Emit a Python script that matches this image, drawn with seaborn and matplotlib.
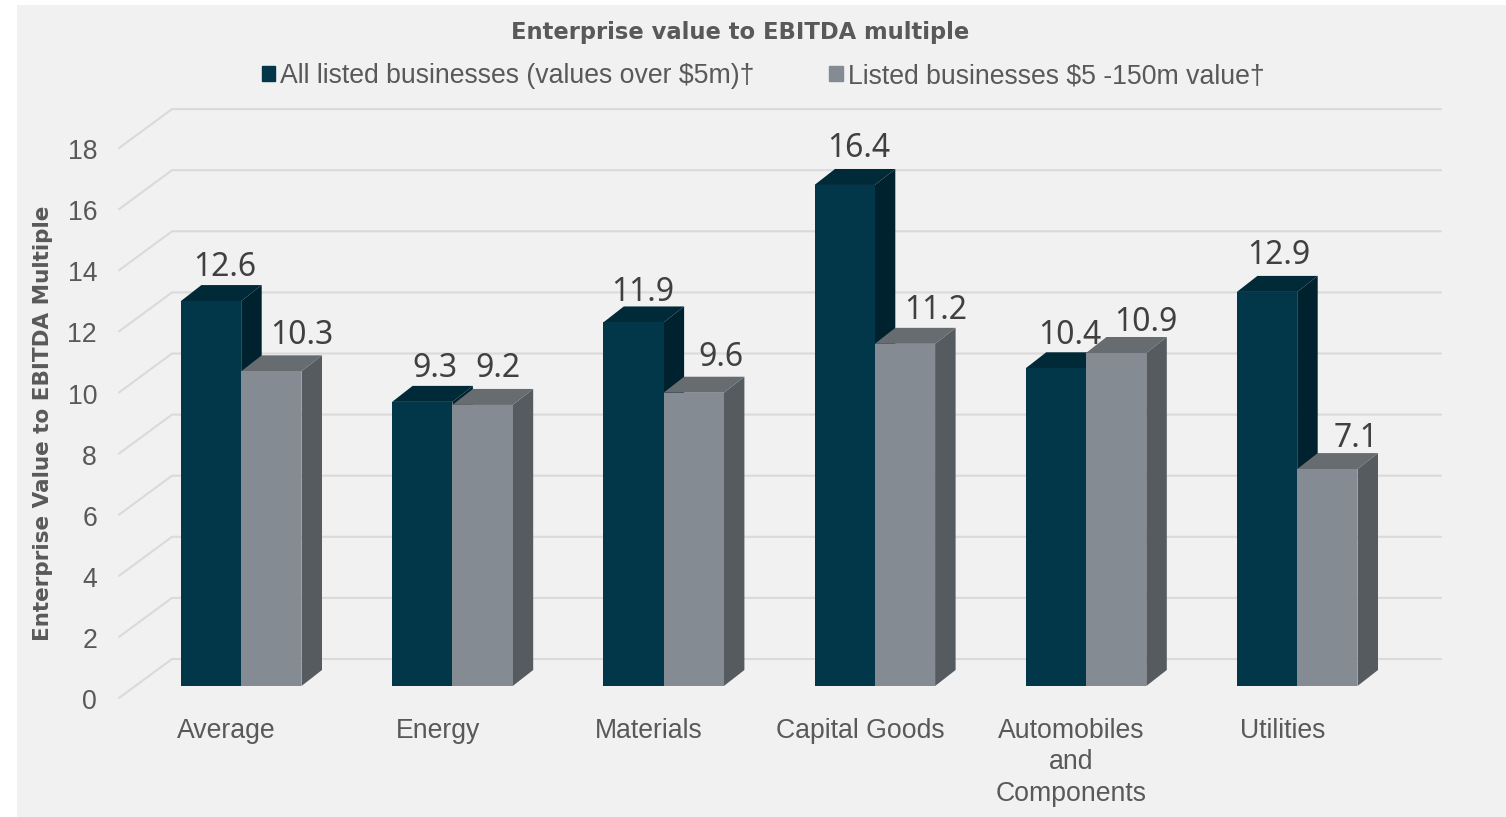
import matplotlib
matplotlib.use("Agg")
import matplotlib.pyplot as plt
import matplotlib.patches as mpatches
import matplotlib.transforms as mtrans
import pandas as pd
import seaborn as sns

sectors = ["Average", "Energy", "Materials", "Capital Goods",
           "Automobiles\nand\nComponents", "Utilities"]
all_listed = [12.6, 9.3, 11.9, 16.4, 10.4, 12.9]
small_listed = [10.3, 9.2, 9.6, 11.2, 10.9, 7.1]
series_names = ["All listed businesses (values over $5m)†",
                "Listed businesses $5 -150m value†"]
y_ticks = list(range(0, 20, 2))

front_colors = ["#02374A", "#848B92"]
top_colors = ["#012A38", "#666C6F"]
side_colors = ["#00222E", "#565B5F"]
grid_color = "#DADADA"
text_color = "#595959"
label_color = "#404040"

# Pixel layout of the plot area on a 1506x817 canvas
W, H = 1506, 817
left_px, right_px, base_px, top_px = 119, 1441, 686, 106
centre_px = 241.2
px_per_cat = 211.2
px_per_unit = 30.55

# Label nudges in pixels, relative to the top centre of each bar
nudge_all = [(14, 34), (13, 33), (9, 30), (14, 36), (14, 33), (12, 36)]
nudge_small = [(30, 36), (15, 36), (27, 35), (31, 33), (30, 31), (29, 31)]

sns.set_theme(style="white")
plt.rcParams["font.family"] = ["Liberation Sans", "DejaVu Sans"]

df = pd.DataFrame({
    "sector": sectors * 2,
    "multiple": all_listed + small_listed,
    "series": [series_names[0]] * 6 + [series_names[1]] * 6,
})

fig = plt.figure(figsize=(W / 100, H / 100), dpi=100, facecolor="white")
fig.add_artist(mpatches.Rectangle((17 / W, 0), 1 - 17 / W, 1 - 5 / H,
                                  transform=fig.transFigure,
                                  facecolor="#F1F1F1", edgecolor="none", zorder=-5))

ax = fig.add_axes([left_px / W, 1 - base_px / H,
                   (right_px - left_px) / W, (base_px - top_px) / H])
ax.patch.set_alpha(0)

sns.barplot(data=df, x="sector", y="multiple", hue="series", hue_order=series_names,
            palette=front_colors, saturation=1, width=0.571, gap=0, ax=ax,
            linewidth=0, zorder=3)

ax.set_xlim((left_px - centre_px) / px_per_cat, (right_px - centre_px) / px_per_cat)
ax.set_ylim(0, (base_px - top_px) / px_per_unit)

to_x = 1 / px_per_cat
to_y = 1 / px_per_unit

# Perspective walls: each gridline runs up a slanted floor edge and along the back
x_front, x_back = ax.get_xlim()[0], ax.get_xlim()[0] + 53 * to_x
for v in y_ticks:
    ax.plot([x_front, x_back, ax.get_xlim()[1]],
            [v - 12 * to_y, v + 27 * to_y, v + 27 * to_y],
            color=grid_color, lw=1.5, clip_on=False, zorder=1,
            solid_joinstyle="miter")

# Extruded side and top faces, derived from the bars seaborn drew
depth_x, depth_y = 20.5 * to_x, 16 * to_y
for i, container in enumerate(ax.containers):
    nudges = [nudge_all, nudge_small][i]
    for bar, (nx, ny) in zip(container.patches, nudges):
        x0, w, h = bar.get_x(), bar.get_width(), bar.get_height()
        x1 = x0 + w
        bar.set_zorder(4 + 2 * i)
        ax.add_patch(mpatches.Polygon(
            [(x1, 0), (x1 + depth_x, depth_y), (x1 + depth_x, h + depth_y), (x1, h)],
            facecolor=side_colors[i], edgecolor="none", zorder=3 + 2 * i, clip_on=False))
        ax.add_patch(mpatches.Polygon(
            [(x0, h), (x0 + depth_x, h + depth_y), (x1 + depth_x, h + depth_y), (x1, h)],
            facecolor=top_colors[i], edgecolor="none", zorder=3 + 2 * i, clip_on=False))
        ax.annotate(f"{h:.1f}", (x0 + w / 2, h), xytext=(nx * 0.72, ny * 0.72),
                    textcoords="offset points", ha="center", va="center",
                    fontsize=23, color=label_color, family="Noto Sans", zorder=10)

for s in ax.spines.values():
    s.set_visible(False)
ax.set_xlabel("")
ax.set_ylabel("")

ax.set_yticks(y_ticks)
ax.tick_params(axis="both", length=0)
ax.tick_params(axis="y", labelsize=19.2, labelcolor=text_color, pad=0)
ax.tick_params(axis="x", labelsize=19.2, labelcolor=text_color, pad=0)
y_shift = mtrans.ScaledTranslation(-22 / 100, -13 / 100, fig.dpi_scale_trans)
for lab in ax.get_yticklabels():
    lab.set_transform(lab.get_transform() + y_shift)
x_shift = mtrans.ScaledTranslation(-14.8 / 100, -32 / 100, fig.dpi_scale_trans)
for lab in ax.get_xticklabels():
    lab.set_transform(lab.get_transform() + x_shift)
    lab.set_linespacing(1.27)

fig.text(740 / W, 1 - 32 / H, "Enterprise value to EBITDA multiple",
         ha="center", va="center", fontsize=16.3, fontweight="bold",
         color=text_color, family="DejaVu Sans")
fig.text(43 / W, 1 - 423 / H, "Enterprise Value to EBITDA Multiple",
         ha="center", va="center", rotation=90, fontsize=15.45, fontweight="bold",
         color=text_color, family="DejaVu Sans")

handles = [mpatches.Patch(color=c) for c in front_colors]
ax.legend(handles, series_names, ncol=2, frameon=False, loc="center",
          bbox_to_anchor=(763 / W, 1 - 76 / H), bbox_transform=fig.transFigure,
          fontsize=19.2, labelcolor=text_color, handlelength=0.52, handleheight=0.52,
          handletextpad=0.19, columnspacing=2.78)

fig.savefig("out.png", dpi=100, facecolor="white")
